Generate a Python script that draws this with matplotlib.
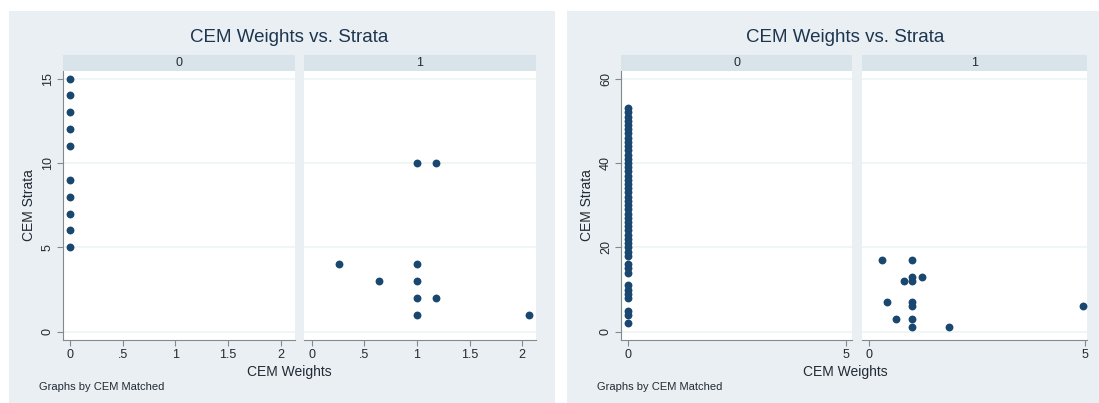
import matplotlib
matplotlib.use('Agg')
import matplotlib.pyplot as plt
from matplotlib.patches import Rectangle

plt.rcParams['font.family'] = ['Liberation Sans', 'DejaVu Sans']

# data
# left graph (strata 0..15)
left0_x = [0, 0, 0, 0, 0, 0, 0, 0, 0, 0]
left0_y = [5, 6, 7, 8, 9, 11, 12, 13, 14, 15]
left1_x = [1.0, 1.18, 0.26, 1.0, 0.64, 1.0, 1.0, 1.18, 1.0, 2.06]
left1_y = [10, 10, 4, 4, 3, 3, 2, 2, 1, 1]

# right graph (strata 0..60)
right0_y = [2, 4, 5, 8, 9, 10, 11, 14, 15, 16,
            18, 19, 20, 21, 22, 23, 24, 25, 26, 27, 28, 29, 30, 31, 32, 33, 34, 35,
            36, 37, 38, 39, 40, 41, 42, 43, 44, 45, 46, 47, 48, 49, 50, 51, 52, 53]
right0_x = [0] * len(right0_y)
right1_x = [0.31, 1.0, 0.81, 1.0, 1.0, 1.24, 0.42, 1.0, 1.0, 0.63, 1.0, 1.0, 1.85, 4.96]
right1_y = [17, 17, 12, 13, 12, 13, 7, 7, 6, 3, 3, 1, 1, 6]

left_xticks = [0, 0.5, 1, 1.5, 2]
left_xlabels = ['0', '.5', '1', '1.5', '2']
left_yticks = [0, 5, 10, 15]
right_xticks = [0, 5]
right_xlabels = ['0', '5']
right_yticks = [0, 20, 40, 60]
strip_labels = ['0', '1']

W, H = 1099, 403
BG = '#e9eff2'
STRIP = '#d8e4e9'
NAVY = '#1a476f'
AXC = '#7f8a91'
TXT = '#222a33'

fig = plt.figure(figsize=(W / 100, H / 100), dpi=100)
fig.patch.set_facecolor('white')


def box(x0, y0, x1, y1):
    # pixel box (top-left origin) -> figure fraction
    return [x0 / W, 1 - y1 / H, (x1 - x0) / W, (y1 - y0) / H]


def panel(x0, x1):
    fig.patches.append(Rectangle((x0 / W, 0), (x1 - x0) / W, 1 - 11 / H,
                                 transform=fig.transFigure, facecolor=BG,
                                 edgecolor='none', zorder=-5))


def facet(xs, ys, xl, yl, xticks, xlabels, yticks, first, xlim, ylim):
    ax = fig.add_axes(box(xl, 71, yl, 340))
    ax.set_facecolor('white')
    ax.scatter(xs, ys, s=32, color=NAVY, zorder=3, linewidths=0)
    ax.set_xlim(*xlim)
    ax.set_ylim(*ylim)
    ax.set_xticks(xticks)
    ax.set_xticklabels(xlabels)
    ax.set_yticks(yticks)
    ax.grid(axis='y', color='#eef3f5', linewidth=1.2, zorder=0)
    for s in ['top', 'right']:
        ax.spines[s].set_visible(False)
    ax.spines['bottom'].set_color(AXC)
    ax.spines['left'].set_color(AXC)
    ax.tick_params(colors=AXC, labelcolor=TXT, labelsize=9, length=4, width=0.8, pad=2.5)
    if first:
        ax.tick_params(axis='y', labelrotation=90)
        for t in ax.get_yticklabels():
            t.set_va('center')
    else:
        ax.spines['left'].set_visible(False)
        ax.tick_params(axis='y', left=False, labelleft=False)
    return ax


def strip(xl, xr, label):
    sa = fig.add_axes(box(xl, 55, xr, 71))
    sa.set_facecolor(STRIP)
    sa.set_xticks([])
    sa.set_yticks([])
    for s in sa.spines.values():
        s.set_visible(False)
    sa.text(0.5, 0.5, label, ha='center', va='center', fontsize=9, color=TXT,
            transform=sa.transAxes)


def graph(px0, px1, a0, a1, d0, d1, xticks, xlabels, yticks, xlim0, xlim1, ylim, cx):
    panel(px0, px1)
    ax0 = facet(d0[0], d0[1], a0[0], a0[1], xticks, xlabels, yticks, True, xlim0, ylim)
    facet(d1[0], d1[1], a1[0], a1[1], xticks, xlabels, yticks, False, xlim1, ylim)
    strip(a0[0], a0[1], strip_labels[0])
    strip(a1[0], a1[1], strip_labels[1])
    ax0.set_ylabel('CEM Strata', fontsize=10, color=TXT, labelpad=4)
    fig.text(cx / W, 1 - 37 / H, 'CEM Weights vs. Strata', ha='center', va='center',
             fontsize=13.5, color='#1e3550')
    fig.text(cx / W, 1 - 372 / H, 'CEM Weights', ha='center', va='center',
             fontsize=10, color=TXT)
    fig.text((px0 + 30) / W, 1 - 387 / H, 'Graphs by CEM Matched', ha='left',
             va='center', fontsize=8, color=TXT)


graph(9, 555, (63, 295), (304, 536), (left0_x, left0_y), (left1_x, left1_y),
      left_xticks, left_xlabels, left_yticks,
      (-0.066, 2.137), (-0.072, 2.13), (-0.49, 15.45), 289)

graph(567, 1099, (621, 852), (862, 1087), (right0_x, right0_y), (right1_x, right1_y),
      right_xticks, right_xlabels, right_yticks,
      (-0.16, 5.14), (-0.16, 5.05), (-1.97, 61.8), 845)

fig.savefig('out.png', dpi=100, facecolor=fig.get_facecolor())
